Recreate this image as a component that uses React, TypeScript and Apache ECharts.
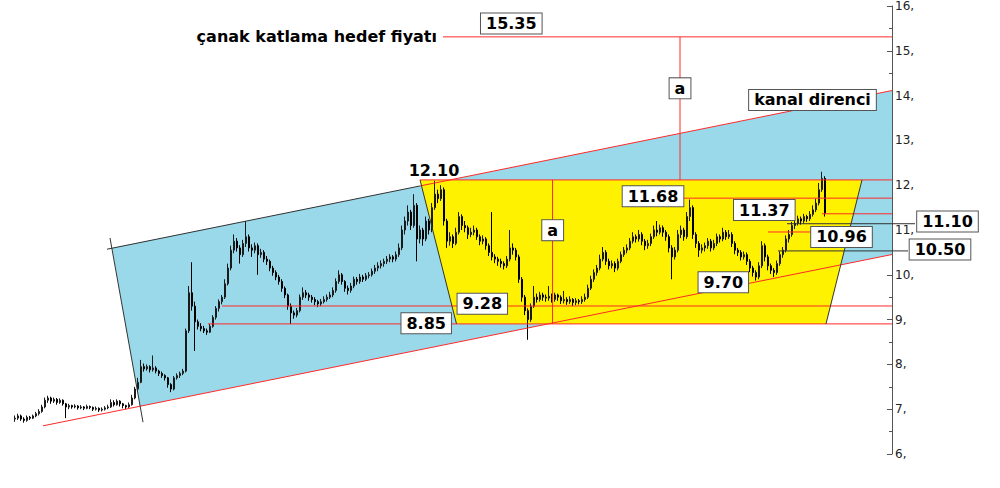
import React, { useEffect, useRef } from 'react';
import * as echarts from 'echarts';

// Price axis range / ticks
const yMin = 6;
const yMax = 16;
const yStep = 1;

// Daily candles: [open, close, low, high] (index = position on the time axis)
const ohlc: number[][] = [
  [6.78, 6.80, 6.72, 6.86], [6.80, 6.85, 6.76, 6.90], [6.85, 6.78, 6.74, 6.88], [6.78, 6.75, 6.70, 6.82],
  [6.75, 6.82, 6.72, 6.86], [6.82, 6.80, 6.76, 6.85], [6.80, 6.85, 6.78, 6.88], [6.85, 6.90, 6.82, 6.94],
  [6.90, 6.95, 6.86, 7.00], [6.95, 7.05, 6.92, 7.10], [7.05, 7.20, 7.02, 7.26], [7.20, 7.25, 7.14, 7.30],
  [7.25, 7.18, 7.12, 7.28], [7.18, 7.22, 7.14, 7.26], [7.22, 7.15, 7.10, 7.25], [7.15, 7.20, 7.12, 7.24],
  [7.20, 7.12, 7.08, 7.22], [7.12, 7.05, 6.80, 7.14], [7.05, 7.08, 7.00, 7.12], [7.08, 7.05, 7.01, 7.10],
  [7.05, 7.07, 7.02, 7.11], [7.07, 7.03, 6.99, 7.09], [7.03, 7.05, 7.00, 7.09], [7.05, 7.02, 6.98, 7.07],
  [7.02, 7.06, 7.00, 7.10], [7.06, 7.04, 7.00, 7.08], [7.04, 7.00, 6.96, 7.06], [7.00, 7.02, 6.97, 7.06],
  [7.02, 6.98, 6.94, 7.04], [6.98, 7.00, 6.95, 7.04], [7.00, 7.03, 6.97, 7.07], [7.03, 7.05, 7.00, 7.10],
  [7.05, 7.15, 7.03, 7.22], [7.15, 7.10, 7.06, 7.20], [7.10, 7.18, 7.08, 7.22], [7.18, 7.12, 7.06, 7.20],
  [7.12, 7.08, 7.02, 7.14], [7.08, 7.05, 7.00, 7.10], [7.05, 7.10, 7.03, 7.15], [7.10, 7.25, 7.08, 7.32],
  [7.25, 7.45, 7.22, 7.50], [7.45, 7.60, 7.40, 7.70], [7.60, 7.95, 7.58, 8.10], [7.95, 7.90, 7.84, 8.02],
  [7.90, 7.95, 7.86, 8.00], [7.95, 7.88, 7.82, 7.98], [7.88, 7.92, 7.84, 8.20], [7.92, 7.85, 7.80, 7.96],
  [7.85, 7.80, 7.74, 7.88], [7.80, 7.75, 7.70, 7.84], [7.75, 7.70, 7.64, 7.78], [7.70, 7.55, 7.48, 7.72],
  [7.55, 7.45, 7.38, 7.58], [7.45, 7.70, 7.42, 7.74], [7.70, 7.75, 7.66, 7.80], [7.75, 7.80, 7.70, 7.84],
  [7.80, 7.85, 7.76, 7.90], [7.85, 8.75, 7.82, 8.80], [8.75, 9.60, 8.70, 9.75], [9.60, 9.30, 9.20, 10.28],
  [9.30, 8.95, 8.30, 9.40], [8.95, 8.85, 8.78, 9.00], [8.85, 8.80, 8.74, 8.92], [8.80, 8.75, 8.70, 8.86],
  [8.75, 8.72, 8.66, 8.80], [8.72, 8.85, 8.70, 8.90], [8.85, 9.05, 8.82, 9.10], [9.05, 9.25, 9.00, 9.30],
  [9.25, 9.40, 9.18, 9.45], [9.40, 9.50, 9.34, 9.55], [9.50, 9.80, 9.46, 9.90], [9.80, 10.15, 9.76, 10.25],
  [10.15, 10.55, 10.10, 10.65], [10.55, 10.75, 10.48, 10.90], [10.75, 10.60, 10.52, 10.82], [10.60, 10.45, 10.25, 10.66],
  [10.45, 10.70, 10.40, 10.78], [10.70, 10.85, 10.62, 11.20], [10.85, 10.60, 10.52, 10.90], [10.60, 10.55, 10.40, 10.68],
  [10.55, 10.65, 10.48, 10.72], [10.65, 10.45, 10.00, 10.70], [10.45, 10.50, 10.38, 10.58], [10.50, 10.35, 10.28, 10.55],
  [10.35, 10.30, 10.22, 10.42], [10.30, 10.15, 10.08, 10.34], [10.15, 10.05, 9.98, 10.20], [10.05, 9.95, 9.88, 10.10],
  [9.95, 9.85, 9.78, 10.00], [9.85, 9.70, 9.62, 9.90], [9.70, 9.55, 9.48, 9.74], [9.55, 9.30, 9.22, 9.58],
  [9.30, 9.15, 8.90, 9.36], [9.15, 9.10, 9.02, 9.20], [9.10, 9.20, 9.05, 9.26], [9.20, 9.50, 9.16, 9.56],
  [9.50, 9.60, 9.44, 9.72], [9.60, 9.55, 9.48, 9.66], [9.55, 9.50, 9.42, 9.60], [9.50, 9.45, 9.38, 9.55],
  [9.45, 9.40, 9.32, 9.50], [9.40, 9.35, 9.28, 9.44], [9.35, 9.40, 9.30, 9.46], [9.40, 9.45, 9.36, 9.52],
  [9.45, 9.50, 9.40, 9.56], [9.50, 9.55, 9.46, 9.62], [9.55, 9.65, 9.50, 9.72], [9.65, 9.85, 9.60, 9.92],
  [9.85, 10.00, 9.80, 10.10], [10.00, 9.85, 9.78, 10.04], [9.85, 9.70, 9.62, 9.88], [9.70, 9.65, 9.56, 9.76],
  [9.65, 9.75, 9.60, 9.82], [9.75, 9.90, 9.70, 9.96], [9.90, 9.85, 9.78, 9.95], [9.85, 9.95, 9.80, 10.02],
  [9.95, 9.90, 9.84, 10.00], [9.90, 9.98, 9.86, 10.04], [9.98, 10.00, 9.92, 10.06], [10.00, 10.08, 9.96, 10.14],
  [10.08, 10.15, 10.02, 10.22], [10.15, 10.20, 10.08, 10.28], [10.20, 10.25, 10.14, 10.32], [10.25, 10.30, 10.18, 10.36],
  [10.30, 10.35, 10.24, 10.42], [10.35, 10.40, 10.28, 10.46], [10.40, 10.35, 10.28, 10.44], [10.35, 10.45, 10.30, 10.52],
  [10.45, 10.60, 10.40, 10.70], [10.60, 11.00, 10.55, 11.10], [11.00, 11.20, 10.90, 11.30], [11.20, 11.40, 11.10, 11.55],
  [11.40, 11.10, 11.00, 11.45], [11.10, 11.55, 11.05, 11.80], [11.55, 10.80, 10.30, 11.60], [10.80, 11.00, 10.70, 11.10],
  [11.00, 10.80, 10.65, 11.05], [10.80, 11.20, 10.75, 11.30], [11.20, 11.00, 10.90, 11.25], [11.00, 11.50, 10.95, 11.60],
  [11.50, 11.80, 11.45, 12.10], [11.80, 11.70, 11.60, 11.90], [11.70, 11.90, 11.65, 12.00], [11.90, 11.20, 11.10, 11.95],
  [11.20, 10.75, 10.60, 11.25], [10.75, 10.85, 10.65, 10.95], [10.85, 10.70, 10.60, 10.90], [10.70, 10.95, 10.66, 11.05],
  [10.95, 11.30, 10.90, 11.40], [11.30, 11.10, 11.00, 11.35], [11.10, 11.05, 10.95, 11.20], [11.05, 10.90, 10.80, 11.10],
  [10.90, 10.95, 10.84, 11.05], [10.95, 11.00, 10.88, 11.10], [11.00, 10.85, 10.78, 11.05], [10.85, 10.75, 10.66, 10.90],
  [10.75, 10.80, 10.68, 10.88], [10.80, 10.65, 10.56, 10.84], [10.65, 10.50, 10.42, 10.70], [10.50, 10.40, 10.32, 11.40],
  [10.40, 10.35, 10.26, 10.46], [10.35, 10.30, 10.20, 10.40], [10.30, 10.25, 10.16, 10.36], [10.25, 10.20, 10.12, 10.30],
  [10.20, 10.35, 10.15, 10.42], [10.35, 10.60, 10.30, 11.00], [10.60, 10.55, 10.45, 10.70], [10.55, 10.40, 10.32, 10.60],
  [10.40, 9.90, 9.82, 10.45], [9.90, 9.50, 9.40, 9.95], [9.50, 9.20, 9.10, 9.55], [9.20, 9.00, 8.55, 9.25],
  [9.00, 9.30, 8.95, 9.36], [9.30, 9.50, 9.26, 9.75], [9.50, 9.45, 9.38, 9.58], [9.45, 9.55, 9.40, 9.62],
  [9.55, 9.50, 9.42, 9.60], [9.50, 9.48, 9.40, 9.56], [9.48, 9.52, 9.42, 9.75], [9.52, 9.45, 9.38, 9.58],
  [9.45, 9.55, 9.40, 9.60], [9.55, 9.50, 9.42, 9.58], [9.50, 9.42, 9.35, 9.54], [9.42, 9.45, 9.36, 9.64],
  [9.45, 9.40, 9.33, 9.50], [9.40, 9.45, 9.35, 9.52], [9.45, 9.38, 9.30, 9.48], [9.38, 9.42, 9.32, 9.48],
  [9.42, 9.40, 9.34, 9.46], [9.40, 9.45, 9.35, 9.52], [9.45, 9.50, 9.40, 9.58], [9.50, 9.70, 9.46, 9.78],
  [9.70, 9.90, 9.66, 9.98], [9.90, 10.05, 9.84, 10.12], [10.05, 10.15, 9.98, 10.22], [10.15, 10.35, 10.10, 10.45],
  [10.35, 10.50, 10.30, 10.62], [10.50, 10.30, 10.22, 10.55], [10.30, 10.20, 10.12, 10.36], [10.20, 10.25, 10.14, 10.32],
  [10.25, 10.15, 10.06, 10.30], [10.15, 10.30, 10.10, 10.36], [10.30, 10.45, 10.26, 10.52], [10.45, 10.55, 10.40, 10.62],
  [10.55, 10.60, 10.48, 10.68], [10.60, 10.75, 10.55, 10.82], [10.75, 10.85, 10.70, 10.95], [10.85, 10.80, 10.72, 10.90],
  [10.80, 10.90, 10.74, 11.00], [10.90, 10.75, 10.66, 10.95], [10.75, 10.65, 10.55, 10.80], [10.65, 10.70, 10.58, 10.78],
  [10.70, 10.85, 10.64, 10.92], [10.85, 11.00, 10.80, 11.10], [11.00, 10.95, 10.86, 11.20], [10.95, 11.05, 10.90, 11.12],
  [11.05, 10.95, 10.85, 11.10], [10.95, 10.85, 10.76, 11.00], [10.85, 10.60, 10.50, 10.90], [10.60, 10.40, 9.90, 10.66],
  [10.40, 10.55, 10.34, 10.62], [10.55, 10.90, 10.50, 11.00], [10.90, 11.00, 10.82, 11.10], [11.00, 10.85, 10.76, 11.05],
  [10.85, 11.30, 10.80, 11.40], [11.30, 11.50, 11.20, 11.68], [11.50, 10.90, 10.80, 11.55], [10.90, 10.70, 10.60, 10.95],
  [10.70, 10.55, 10.40, 10.75], [10.55, 10.60, 10.48, 10.68], [10.60, 10.65, 10.52, 10.72], [10.65, 10.75, 10.58, 10.82],
  [10.75, 10.60, 10.52, 10.80], [10.60, 10.70, 10.55, 10.78], [10.70, 10.85, 10.64, 10.92], [10.85, 10.80, 10.72, 10.90],
  [10.80, 10.95, 10.75, 11.05], [10.95, 10.85, 10.78, 11.00], [10.85, 10.90, 10.80, 11.00], [10.90, 10.70, 10.62, 10.95],
  [10.70, 10.55, 10.46, 10.75], [10.55, 10.50, 10.42, 10.60], [10.50, 10.40, 10.32, 10.55], [10.40, 10.45, 10.34, 10.52],
  [10.45, 10.30, 10.22, 10.50], [10.30, 10.15, 10.06, 10.35], [10.15, 10.05, 9.96, 10.20], [10.05, 9.95, 9.87, 10.10],
  [9.95, 10.20, 9.90, 10.28], [10.20, 10.65, 10.15, 10.75], [10.65, 10.40, 10.30, 10.70], [10.40, 10.20, 10.10, 10.45],
  [10.20, 10.10, 10.02, 10.25], [10.10, 10.05, 9.95, 10.15], [10.05, 10.25, 10.00, 10.32], [10.25, 10.45, 10.20, 10.52],
  [10.45, 10.55, 10.38, 10.62], [10.55, 10.80, 10.50, 10.88], [10.80, 10.90, 10.72, 11.00], [10.90, 11.10, 10.85, 11.18],
  [11.10, 11.15, 11.02, 11.22], [11.15, 11.25, 11.10, 11.32], [11.25, 11.20, 11.12, 11.30], [11.20, 11.30, 11.15, 11.36],
  [11.30, 11.25, 11.18, 11.34], [11.25, 11.35, 11.20, 11.42], [11.35, 11.45, 11.30, 11.55], [11.45, 11.60, 11.40, 11.70],
  [11.60, 11.90, 11.55, 12.05], [11.90, 12.15, 11.85, 12.30], [12.15, 11.37, 11.30, 12.20],
];

// Drawn regions, vertices as [time index, price]
const blueChannel: number[][] = [[32.33, 10.596], [292.33, 14.113], [292.33, 10.453], [41.67, 7.067]];
const yellowCup: number[][] = [[135, 12.118], [282.33, 12.118], [270.33, 8.904], [147.17, 8.904]];

// Red drawing lines: [x1, y1, x2, y2]
const redLines: number[][] = [
  [9.33, 6.629, 292.33, 10.453],     // channel support
  [135, 11.983, 292.33, 14.113],     // kanal direnci
  [142.67, 15.311, 292.33, 15.311],  // target 15.35
  [135, 12.118, 292.33, 12.118],     // 12.10
  [222.67, 11.711, 292.33, 11.711],  // 11.68
  [269, 11.362, 292.33, 11.362],     // 11.37
  [251, 10.956, 266, 10.956],        // 10.96
  [69, 9.304, 292.33, 9.304],        // 9.28
  [64.33, 8.904, 292.33, 8.904],     // 8.85
  [221.67, 15.311, 221.67, 12.118],  // a (projection)
  [179.17, 12.118, 179.17, 8.904],   // a (cup depth)
];

// Dark drawing lines: [x1, y1, x2, y2]
const darkLines: number[][] = [
  [30.67, 10.571, 135, 11.983],      // channel top, left part
  [31.67, 10.822, 42.67, 6.711],     // channel left edge
  [135, 12.118, 147.17, 8.904],      // cup left edge
  [282.33, 12.118, 270.33, 8.904],   // cup right edge
  [257.33, 11.14, 300, 11.14],       // 11.10 pointer
  [254.33, 10.533, 297.67, 10.533],  // 10.50 pointer
];

// Annotation texts
const labelTexts = ['15.35', 'çanak katlama hedef fiyatı', 'kanal direnci', 'a', 'a', '12.10', '11.68', '11.37', '10.96', '11.10', '10.50', '9.70', '9.28', '8.85'];
const labelAnchors: number[][] = [
  [165.43, 15.607], [140.67, 15.311], [265.83, 13.904], [221.67, 14.162], [179.23, 10.996], [139.67, 12.333],
  [212.67, 11.756], [249.77, 11.444], [275.5, 10.844], [310.83, 11.189], [308.33, 10.567], [236.1, 9.833],
  [155.77, 9.356], [137.07, 8.918],
];
const labelBoxed = [true, false, true, true, true, false, true, true, true, true, true, true, true, true];

export default function App() {
  const ref = useRef<HTMLDivElement>(null);
  useEffect(() => {
    if (!ref.current) return;
    const chart = echarts.init(ref.current, null, { renderer: 'svg' });
    const candles = ohlc.map((d, i) => [i, d[0], d[1], d[2], d[3]]);
    const polys = [
      { pts: blueChannel, color: '#99d9ea' },
      { pts: yellowCup, color: '#fff200' },
    ];
    const lineItem = (color: string) => (params: any, api: any) => {
      const p1 = api.coord([api.value(0), api.value(1)]);
      const p2 = api.coord([api.value(2), api.value(3)]);
      return {
        type: 'line',
        shape: { x1: p1[0], y1: p1[1], x2: p2[0], y2: p2[1] },
        style: { stroke: color, lineWidth: 1 },
      };
    };
    const option: any = {
      animation: false,
      backgroundColor: '#ffffff',
      grid: { left: 0, right: 108, top: 4, bottom: 34, containLabel: false },
      xAxis: { type: 'value', min: -5, max: 292.333, show: false },
      yAxis: {
        type: 'value',
        position: 'right',
        min: yMin,
        max: yMax,
        interval: yStep,
        axisLine: { show: true, onZero: false, lineStyle: { color: '#555', width: 1 } },
        axisTick: { show: true, inside: true, length: 5, lineStyle: { color: '#555' } },
        minorTick: { show: true, splitNumber: 2, length: 3, lineStyle: { color: '#555' } },
        splitLine: { show: false },
        axisLabel: {
          margin: 3,
          color: '#222',
          fontSize: 12,
          fontFamily: 'DejaVu Sans',
          formatter: (v: number) => `${v},`,
        },
      },
      series: [
        {
          type: 'custom',
          z: 1,
          silent: true,
          data: polys.map((p) => p.pts[0]),
          renderItem: (params: any, api: any) => {
            const poly = polys[params.dataIndex];
            return {
              type: 'polygon',
              shape: { points: poly.pts.map((pt) => api.coord(pt)) },
              style: { fill: poly.color, stroke: 'none' },
            };
          },
        },
        {
          type: 'candlestick',
          z: 3,
          silent: true,
          barWidth: 2.2,
          data: candles,
          itemStyle: {
            color: '#7a7a7a',
            color0: '#111111',
            borderColor: '#1a1a1a',
            borderColor0: '#000000',
            borderWidth: 1,
          },
        },
        {
          type: 'custom',
          z: 4,
          silent: true,
          data: redLines,
          renderItem: lineItem('#ff2a2a'),
        },
        {
          type: 'custom',
          z: 4,
          silent: true,
          data: darkLines,
          renderItem: lineItem('#333333'),
        },
        {
          type: 'custom',
          z: 5,
          silent: true,
          data: labelAnchors,
          renderItem: (params: any, api: any) => {
            const i = params.dataIndex;
            const p = api.coord([api.value(0), api.value(1)]);
            const boxed = labelBoxed[i];
            return {
              type: 'text',
              x: p[0],
              y: p[1],
              style: {
                text: labelTexts[i],
                fontSize: 16,
                fontWeight: 'bold',
                fontFamily: 'DejaVu Sans',
                fill: '#000',
                align: i === 1 ? 'right' : 'center',
                verticalAlign: 'middle',
                backgroundColor: boxed ? '#ffffff' : 'transparent',
                borderColor: boxed ? '#555555' : 'transparent',
                borderWidth: boxed ? 1 : 0,
                padding: boxed ? [2, 5, 2, 5] : 0,
              },
            };
          },
        },
      ],
    };
    chart.setOption(option);
    return () => chart.dispose();
  }, []);
  return (
    <div
      ref={ref}
      style={{ position: 'fixed', left: 0, top: 0, width: 1000, height: 488, background: '#fff' }}
    />
  );
}
